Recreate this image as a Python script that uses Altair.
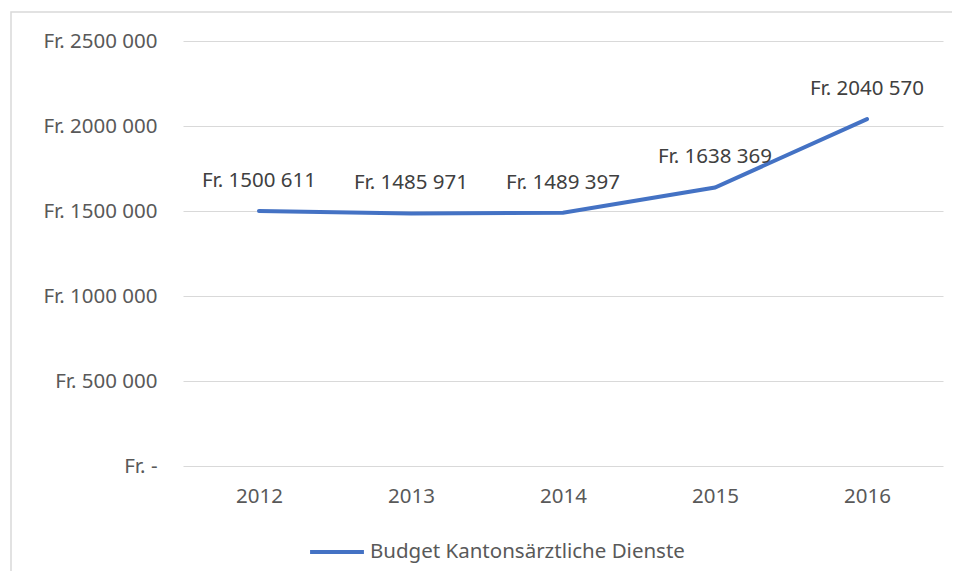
import altair as alt
import pandas as pd

years = ["2012", "2013", "2014", "2015", "2016"]
budget = [1500611, 1485971, 1489397, 1638369, 2040570]
value_labels = ["Fr. 1500 611", "Fr. 1485 971", "Fr. 1489 397", "Fr. 1638 369", "Fr. 2040 570"]
series_name = "Budget Kantonsärztliche Dienste"
y_ticks = [0, 500000, 1000000, 1500000, 2000000, 2500000]
y_tick_labels = ["Fr. -", "Fr. 500 000", "Fr. 1000 000", "Fr. 1500 000", "Fr. 2000 000", "Fr. 2500 000"]

df = pd.DataFrame({"year": years, "budget": budget, "label": value_labels, "series": series_name})

FONT = "Noto Sans"
TXT = "#595959"
BLUE = "#4472C4"
FS = 20.5

label_expr = " : ".join(
    f"datum.value == {v} ? '{l}'" for v, l in zip(y_ticks, y_tick_labels)
) + " : ''"

x_enc = alt.X("year:N", title=None, sort=years,
              scale=alt.Scale(paddingInner=0, paddingOuter=0.5),
              axis=alt.Axis(labelAngle=0, domain=False, ticks=False, grid=False,
                            labelFont=FONT, labelFontSize=FS, labelColor=TXT, labelPadding=20))
y_enc = alt.Y("budget:Q", title=None, scale=alt.Scale(domain=[0, 2500000], nice=False),
              axis=alt.Axis(values=y_ticks, labelExpr=label_expr, domain=False, ticks=False,
                            gridColor="#d9d9d9", gridWidth=1, labelLimit=300,
                            labelFont=FONT, labelFontSize=FS, labelColor=TXT, labelPadding=26))

frame = alt.Chart(pd.DataFrame({"a": [0]})).mark_rect(
    fill=None, stroke="#d9d9d9", strokeWidth=1.5
).encode(x=alt.value(-172), x2=alt.value(800), y=alt.value(-29), y2=alt.value(580))

line = alt.Chart(df).mark_line(strokeWidth=4, strokeCap="round").encode(
    x=x_enc, y=y_enc,
    color=alt.Color("series:N", scale=alt.Scale(range=[BLUE]),
                    legend=alt.Legend(title=None, orient="none", legendX=125, legendY=482,
                                      symbolType="stroke", symbolStrokeWidth=4, symbolSize=2900,
                                      labelFont=FONT, labelFontSize=FS, labelColor=TXT,
                                      labelOffset=4, labelLimit=500))
)

text = alt.Chart(df).mark_text(font=FONT, fontSize=FS, color="#404040", dy=-30, baseline="middle").encode(
    x=alt.X("year:N", sort=years), y="budget:Q", text="label:N"
)

chart = alt.layer(frame, line, text).properties(
    width=760, height=425,
    background="white",
    autosize=alt.AutoSizeParams(type="none"),
    padding={"left": 175, "top": 33, "right": 9, "bottom": 105},
).configure_view(stroke=None)

chart.save("out.html", embed_options={"renderer": "svg", "actions": False})
